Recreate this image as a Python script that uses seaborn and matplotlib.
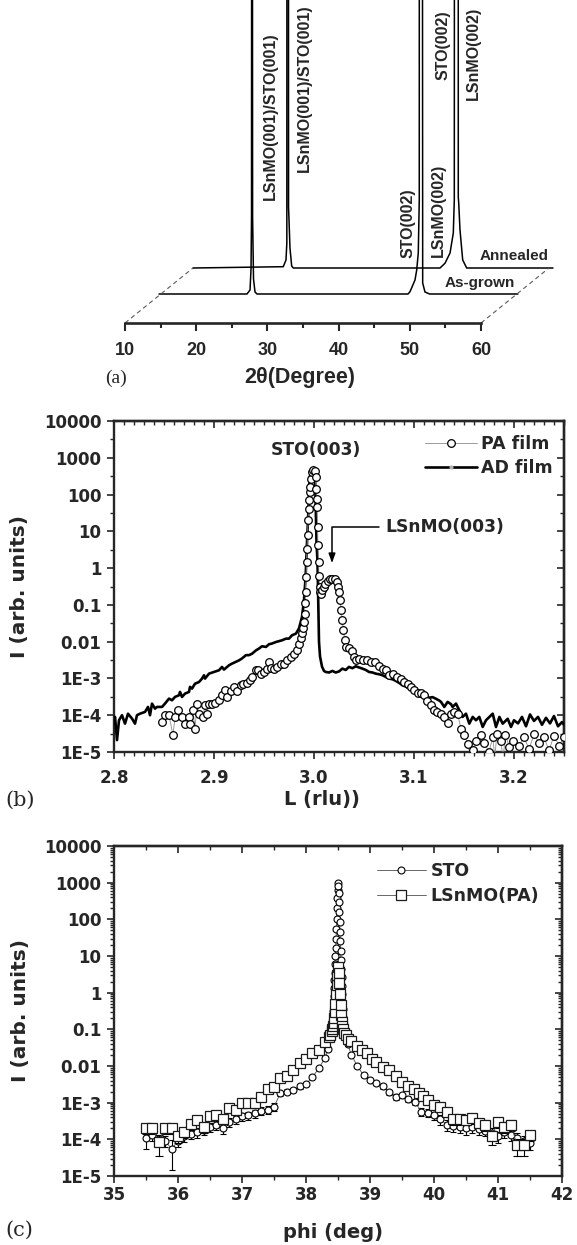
import numpy as np
import matplotlib
matplotlib.use("Agg")
import matplotlib.pyplot as plt
from matplotlib.lines import Line2D
from matplotlib.ticker import FixedLocator, MultipleLocator, NullFormatter
import seaborn as sns

sns.set_style("ticks")
plt.rcParams["font.family"] = ["DejaVu Sans"]
plt.rcParams["font.weight"] = "bold"
plt.rcParams["axes.labelweight"] = "bold"

# ---------------- (a) theta-2theta scans (intensity in display units) ----------------
tth_asgrown = [10.0, 22.35, 22.78, 22.92, 22.99, 23.06, 23.14, 23.27, 23.48, 23.76,
               44.97, 45.25, 45.95, 46.19, 46.41, 46.55, 46.58, 46.90, 47.03, 47.35, 48.0, 60.4]
int_asgrown = [0, 0, 4, 25, 77, 1500, 77, 15, 2, 0,
               0, 2.3, 14, 24, 41, 94, 1500, 1500, 11, 2, 0, 0]
tth_annealed = [10.0, 22.68, 23.06, 23.18, 23.22, 23.40, 23.42, 23.5, 23.62, 23.86, 24.09,
                44.69, 45.39, 46.1, 46.56, 46.7, 46.78, 47.24, 47.26, 47.32, 47.5, 47.88, 48.44, 60.56]
int_annealed = [0, 1.3, 8, 25, 1500, 1500, 61, 45, 20, 2, 0,
                0, 4.7, 15, 35, 68, 1500, 1500, 71, 65, 38, 8, 0, 0]
scan_names = ["As-grown", "Annealed"]
scan_shift_deg = [4.78, 9.55]
scan_shift_up = [29, 55]
tth_ticks = [10, 20, 30, 40, 50, 60]
tth_minor = [15, 25, 35, 45, 55]

# ---------------- (b) L scans ----------------
L_ad = [2.800, 2.801, 2.803, 2.805, 2.808, 2.811, 2.814, 2.818, 2.821, 2.823, 2.826, 2.831,
        2.834, 2.836, 2.838, 2.841, 2.843, 2.848, 2.851, 2.855, 2.858, 2.861, 2.865, 2.866,
        2.868, 2.871, 2.875, 2.876, 2.878, 2.881, 2.885, 2.888, 2.890, 2.891, 2.895, 2.900,
        2.905, 2.908, 2.910, 2.915, 2.918, 2.925, 2.928, 2.932, 2.935, 2.938, 2.942, 2.945,
        2.948, 2.952, 2.955, 2.958, 2.962, 2.965, 2.968, 2.972, 2.975, 2.978, 2.982, 2.985,
        2.988, 2.990, 2.9916, 2.993, 2.9945, 2.9957, 2.999, 3.001, 3.0025, 3.0035, 3.0045,
        3.005, 3.006, 3.008, 3.010, 3.0117, 3.015, 3.0184, 3.0217, 3.025, 3.0284, 3.0317,
        3.035, 3.0384, 3.0418, 3.045, 3.0484, 3.0518, 3.055, 3.0585, 3.0618, 3.065, 3.0685,
        3.0718, 3.075, 3.0785, 3.0818, 3.085, 3.0885, 3.0918, 3.0952, 3.0985, 3.1019, 3.105,
        3.1086, 3.112, 3.1152, 3.1186, 3.122, 3.1253, 3.127, 3.1303, 3.1336, 3.137, 3.1386,
        3.142, 3.1453, 3.1486, 3.152, 3.1553, 3.1587, 3.162, 3.1653, 3.1687, 3.172, 3.1754,
        3.1787, 3.182, 3.1854, 3.1887, 3.1937, 3.197, 3.200, 3.204, 3.208, 3.212, 3.216,
        3.220, 3.224, 3.228, 3.232, 3.236, 3.240, 3.244, 3.248, 3.250]
I_ad = [7.3e-5, 9.0e-5, 2.1e-5, 7.3e-5, 1.0e-4, 5.9e-5, 1.1e-4, 8.1e-5, 5.9e-5, 1.0e-4, 1.1e-4, 1.23e-4,
        1.68e-4, 1.0e-4, 2.07e-4, 1.51e-4, 1.68e-4, 1.68e-4, 2.07e-4, 2.83e-4, 2.55e-4, 3.14e-4, 3.49e-4, 4.3e-4,
        3.14e-4, 3.87e-4, 4.3e-4, 5.9e-4, 5.3e-4, 7.2e-4, 8.0e-4, 9.9e-4, 1.22e-3, 9.9e-4, 1.35e-3, 1.5e-3,
        1.67e-3, 2.05e-3, 1.74e-3, 2.28e-3, 2.53e-3, 3.1e-3, 3.5e-3, 4.3e-3, 4.3e-3, 4.7e-3, 5.8e-3, 6.5e-3,
        7.5e-3, 7.2e-3, 8.5e-3, 8.9e-3, 9.8e-3, 1.03e-2, 1.09e-2, 1.21e-2, 1.21e-2, 1.49e-2, 1.66e-2, 2.3e-2,
        4.7e-2, 0.135, 0.57, 5.0, 40.0, 300.0, 500.0, 370.0, 5.0, 1.5, 0.05,
        0.01, 4.0e-3, 2.1e-3, 1.6e-3, 1.5e-3, 1.45e-3, 1.6e-3, 1.45e-3, 1.55e-3, 1.85e-3, 1.7e-3,
        2.06e-3, 1.9e-3, 2.14e-3, 2.0e-3, 1.85e-3, 1.7e-3, 1.5e-3, 1.45e-3, 1.35e-3, 1.3e-3, 1.22e-3,
        1.1e-3, 9.9e-4, 9.5e-4, 8.6e-4, 7.6e-4, 6.5e-4, 6.0e-4, 5.3e-4, 4.9e-4, 4.6e-4, 4.0e-4,
        3.5e-4, 3.2e-4, 3.0e-4, 3.1e-4, 2.8e-4, 2.5e-4, 2.3e-4, 1.68e-4, 2.3e-4, 2.0e-4, 1.68e-4,
        2.07e-4, 1.36e-4, 9.0e-5, 1.1e-4, 5.9e-5, 9.0e-5, 7.3e-5, 9.0e-5, 4.8e-5, 7.3e-5, 9.0e-5,
        1.1e-4, 4.8e-5, 9.0e-5, 5.9e-5, 8.0e-5, 4.8e-5, 7.3e-5, 6.0e-5, 9.0e-5, 5.0e-5, 1.05e-4,
        7.0e-5, 9.0e-5, 5.5e-5, 8.5e-5, 6.0e-5, 9.5e-5, 5.0e-5, 6.5e-5, 5.5e-5]

L_pa = [2.848, 2.851, 2.855, 2.859, 2.861, 2.864, 2.868, 2.871, 2.875, 2.876, 2.879, 2.881,
        2.883, 2.885, 2.889, 2.891, 2.893, 2.895, 2.898, 2.901, 2.905, 2.908, 2.911, 2.913,
        2.917, 2.920, 2.923, 2.927, 2.929, 2.933, 2.936, 2.938, 2.942, 2.944, 2.947, 2.950,
        2.953, 2.955, 2.957, 2.960, 2.963, 2.967, 2.970, 2.973, 2.977, 2.980, 2.983, 2.985,
        2.987, 2.988, 2.989, 2.990, 2.9905, 2.991, 2.9915, 2.992, 2.9925, 2.993, 2.9935, 2.994,
        2.9945, 2.995, 2.9955, 2.996, 2.997, 2.998, 2.999, 3.0005, 3.0015, 3.002, 3.0025, 3.003,
        3.0035, 3.004, 3.0045, 3.005, 3.0055, 3.006, 3.007, 3.008, 3.0095, 3.011, 3.0135, 3.016,
        3.018, 3.021, 3.023, 3.024, 3.025, 3.026, 3.027, 3.028, 3.0294, 3.0307, 3.0324, 3.035,
        3.0378, 3.040, 3.0418, 3.045, 3.049, 3.0534, 3.0568, 3.061, 3.0645, 3.0685, 3.0718, 3.075,
        3.0785, 3.0825, 3.0869, 3.0902, 3.0935, 3.0969, 3.100, 3.1036, 3.107, 3.110, 3.1132, 3.1165,
        3.120, 3.1232, 3.1266, 3.130, 3.1336, 3.1366, 3.140, 3.1436, 3.147, 3.1503, 3.1537, 3.157,
        3.1587, 3.162, 3.167, 3.170, 3.175, 3.1787, 3.181, 3.1827, 3.187, 3.189, 3.1914, 3.1954,
        3.197, 3.1994, 3.205, 3.210, 3.215, 3.220, 3.225, 3.230, 3.235, 3.240, 3.245, 3.250]
I_pa = [6.6e-5, 1.0e-4, 1.0e-4, 2.85e-5, 9.0e-5, 1.42e-4, 9.0e-5, 5.9e-5, 9.0e-5, 5.7e-5, 1.42e-4, 4.3e-5,
        1.99e-4, 1.1e-4, 9.0e-5, 1.87e-4, 1.1e-4, 2.07e-4, 2.07e-4, 2.16e-4, 2.66e-4, 3.5e-4, 4.8e-4, 3.1e-4,
        4.6e-4, 5.9e-4, 4.6e-4, 6.5e-4, 6.9e-4, 7.6e-4, 9.3e-4, 1.1e-3, 1.67e-3, 1.74e-3, 1.35e-3, 1.5e-3,
        1.85e-3, 2.8e-3, 1.97e-3, 1.85e-3, 2.05e-3, 2.53e-3, 2.53e-3, 3.1e-3, 3.8e-3, 4.5e-3, 5.8e-3, 8.9e-3,
        1.25e-2, 1.7e-2, 2.4e-2, 3.4e-2, 5.7e-2, 0.11, 0.22, 0.57, 1.47, 3.4, 7.8, 20.0,
        41.0, 70.0, 118.0, 161.0, 271.0, 400.0, 457.0, 440.0, 300.0, 145.0, 78.0, 46.0,
        13.0, 4.2, 1.47, 0.6, 0.3, 0.22, 0.2, 0.26, 0.3, 0.38, 0.45, 0.5,
        0.52, 0.5, 0.42, 0.3, 0.22, 0.134, 0.072, 0.04, 0.021, 0.011, 7.0e-3, 6.6e-3,
        5.7e-3, 3.8e-3, 3.2e-3, 3.4e-3, 3.2e-3, 3.1e-3, 2.8e-3, 2.8e-3, 2.2e-3, 1.85e-3, 1.67e-3, 1.22e-3,
        1.35e-3, 1.1e-3, 9.9e-4, 8.0e-4, 7.2e-4, 5.9e-4, 4.8e-4, 4.1e-4, 3.9e-4, 3.5e-4, 2.5e-4, 1.87e-4,
        1.42e-4, 1.23e-4, 1.1e-4, 9.0e-5, 6.2e-5, 1.1e-4, 1.23e-4, 1.1e-4, 4.3e-5, 2.85e-5, 1.7e-5, 6.0e-6,
        1.14e-5, 2.0e-5, 2.85e-5, 1.8e-5, 1.0e-5, 2.5e-5, 7.0e-6, 3.1e-5, 2.0e-5, 6.0e-6, 2.85e-5, 1.4e-5,
        7.0e-6, 2.0e-5, 1.5e-5, 2.5e-5, 1.2e-5, 3.0e-5, 1.8e-5, 2.5e-5, 1.1e-5, 2.8e-5, 1.5e-5, 2.5e-5]
L_ticks = [2.8, 2.9, 3.0, 3.1, 3.2]
L_labels = ["2.8", "2.9", "3.0", "3.1", "3.2"]

# ---------------- (c) phi scans ----------------
phi_sto = [35.5, 35.6, 35.7, 35.8, 35.9, 36.0, 36.1, 36.2, 36.3, 36.4, 36.5, 36.6, 36.7, 36.8,
           36.9, 37.0, 37.1, 37.2, 37.3, 37.4, 37.5, 37.6, 37.7, 37.8, 37.9, 38.0, 38.1, 38.2,
           38.3, 38.35,
           38.40, 38.405, 38.41, 38.415, 38.42, 38.425, 38.43, 38.435, 38.44, 38.445, 38.45,
           38.455, 38.46, 38.465, 38.47, 38.475, 38.48, 38.485, 38.49, 38.495, 38.50, 38.505,
           38.51, 38.515, 38.52, 38.525, 38.53, 38.535, 38.54, 38.545, 38.55, 38.555, 38.56,
           38.565, 38.57, 38.575, 38.58, 38.59, 38.60,
           38.65, 38.71, 38.8, 38.9, 39.0, 39.1, 39.2, 39.3, 39.4, 39.5, 39.6, 39.7, 39.8,
           39.9, 40.0, 40.1, 40.2, 40.3, 40.4, 40.5, 40.6, 40.7, 40.8, 40.9, 41.0, 41.1, 41.2,
           41.3, 41.4, 41.5]
I_sto = [1.1e-4, 1.3e-4, 1.0e-4, 9.0e-5, 5.5e-5, 9.0e-5, 1.2e-4, 1.4e-4, 1.6e-4, 1.8e-4, 2.2e-4, 2.5e-4, 2.0e-4, 3.0e-4,
         3.5e-4, 4.2e-4, 4.5e-4, 5.1e-4, 6.0e-4, 6.5e-4, 7.8e-4, 1.8e-3, 2.0e-3, 2.2e-3, 2.8e-3, 3.2e-3, 5.0e-3, 8.6e-3,
         1.7e-2, 3.0e-2,
         0.07, 0.09, 0.12, 0.16, 0.22, 0.32, 0.5, 0.8, 1.3, 2.2, 3.5,
         6.0, 10.0, 17.0, 30.0, 55.0, 100.0, 200.0, 380.0, 650.0, 1000.0, 800.0,
         520.0, 300.0, 160.0, 85.0, 45.0, 25.0, 14.0, 8.0, 4.5, 2.6, 1.5,
         0.9, 0.55, 0.35, 0.22, 0.13, 0.08,
         0.04, 0.02, 0.01, 5.6e-3, 4.1e-3, 3.4e-3, 2.8e-3, 1.9e-3, 1.45e-3, 1.6e-3, 1.24e-3, 1.07e-3, 5.7e-4,
         5.3e-4, 4.5e-4, 3.5e-4, 2.5e-4, 2.3e-4, 2.2e-4, 2.0e-4, 2.2e-4, 1.9e-4, 1.7e-4, 1.5e-4, 1.2e-4, 1.6e-4, 1.3e-4,
         1.1e-4, 9.0e-5, 8.0e-5]
err_sto = [5.5e-5, 4e-5, 3e-5, 3e-5, 4e-5, 3e-5, 3.5e-5, 4e-5, 5e-5, 5e-5, 6e-5, 7e-5, 6e-5, 8e-5,
           9e-5, 1.1e-4, 1.2e-4, 1.4e-4, 1.5e-4, 1.6e-4, 1.8e-4, 3e-4, 3e-4, 3e-4, 4e-4, 4e-4, 6e-4, 1e-3,
           2e-3, 3e-3,
           6e-3, 8e-3, 0.01, 0.014, 0.02, 0.03, 0.045, 0.07, 0.11, 0.19, 0.3,
           0.5, 0.8, 1.4, 2.5, 4.5, 8.0, 16.0, 30.0, 50.0, 70.0, 60.0,
           40.0, 24.0, 13.0, 7.0, 3.7, 2.0, 1.2, 0.7, 0.4, 0.22, 0.13,
           0.08, 0.05, 0.03, 0.02, 0.012, 7e-3,
           4e-3, 2e-3, 1.2e-3, 7e-4, 5e-4, 4e-4, 4e-4, 3e-4, 2.5e-4, 2.5e-4, 2e-4, 2e-4, 1.3e-4,
           1.3e-4, 1.1e-4, 1e-4, 8e-5, 7e-5, 7e-5, 7e-5, 7e-5, 6e-5, 5e-5, 5e-5, 4e-5, 5e-5, 4e-5,
           4e-5, 3e-5, 3e-5]

phi_lsnmo = [35.5, 35.6, 35.7, 35.8, 35.9, 36.0, 36.1, 36.2, 36.3, 36.4, 36.5, 36.6, 36.7, 36.8,
             36.9, 37.0, 37.1, 37.2, 37.3, 37.4, 37.5, 37.6, 37.7, 37.8, 37.9, 38.0, 38.1, 38.2,
             38.3, 38.36, 38.38, 38.40, 38.41, 38.42, 38.43, 38.44, 38.45, 38.46, 38.47, 38.48,
             38.49, 38.50, 38.51, 38.52, 38.53, 38.54, 38.55, 38.56, 38.57, 38.58, 38.60, 38.62,
             38.65, 38.71, 38.79, 38.87, 38.95, 39.03, 39.1, 39.2, 39.3, 39.4, 39.5, 39.6, 39.68,
             39.76, 39.83, 39.91, 40.0, 40.1, 40.2, 40.3, 40.4, 40.5, 40.6, 40.7, 40.8, 40.9,
             41.0, 41.1, 41.2, 41.3, 41.4, 41.5]
I_lsnmo = [2.0e-4, 2.0e-4, 8.5e-5, 2.0e-4, 2.0e-4, 1.2e-4, 1.6e-4, 2.7e-4, 3.4e-4, 2.2e-4, 4.2e-4, 4.6e-4, 3.5e-4, 7.0e-4,
           6.5e-4, 1.0e-3, 1.0e-3, 9.5e-4, 1.45e-3, 2.4e-3, 2.7e-3, 4.6e-3, 5.5e-3, 7.8e-3, 1.2e-2, 1.6e-2, 2.2e-2, 2.8e-2,
           4.4e-2, 0.06, 0.07, 0.09, 0.1, 0.12, 0.15, 0.2, 0.3, 0.5, 0.9, 1.6,
           3.0, 5.0, 3.5, 1.8, 0.9, 0.45, 0.25, 0.16, 0.12, 0.1, 0.08, 0.07,
           0.055, 0.048, 0.036, 0.028, 0.023, 0.016, 0.013, 9.2e-3, 7.7e-3, 5.3e-3, 3.7e-3, 2.8e-3, 2.4e-3,
           1.8e-3, 1.5e-3, 1.2e-3, 8.6e-4, 7.8e-4, 5.4e-4, 3.5e-4, 3.5e-4, 3.4e-4, 3.7e-4, 2.8e-4, 2.5e-4, 1.2e-4,
           3.0e-4, 2.2e-4, 2.5e-4, 7.0e-5, 7.0e-5, 1.3e-4]
err_lsnmo = [6e-5, 6e-5, 5e-5, 6e-5, 6e-5, 4e-5, 5e-5, 7e-5, 8e-5, 7e-5, 1e-4, 1e-4, 9e-5, 1.4e-4,
             1.4e-4, 2e-4, 2e-4, 2e-4, 2.5e-4, 3.5e-4, 4e-4, 6e-4, 7e-4, 9e-4, 1.3e-3, 1.7e-3, 2.2e-3, 2.8e-3,
             4e-3, 5e-3, 6e-3, 8e-3, 9e-3, 0.01, 0.012, 0.015, 0.022, 0.04, 0.07, 0.12,
             0.2, 0.35, 0.25, 0.13, 0.07, 0.035, 0.02, 0.013, 0.01, 8e-3, 7e-3, 6e-3,
             5e-3, 4.5e-3, 3.5e-3, 2.8e-3, 2.3e-3, 1.7e-3, 1.4e-3, 1e-3, 9e-4, 7e-4, 5e-4, 4e-4, 3.5e-4,
             3e-4, 2.5e-4, 2.2e-4, 1.8e-4, 1.7e-4, 1.3e-4, 1e-4, 1e-4, 1e-4, 1e-4, 8e-5, 8e-5, 5e-5,
             9e-5, 7e-5, 8e-5, 3.5e-5, 3.5e-5, 4e-5]
phi_ticks = [35, 36, 37, 38, 39, 40, 41, 42]

# shared log-axis ticks
I_ticks = [1e-5, 1e-4, 1e-3, 1e-2, 1e-1, 1, 10, 100, 1000, 10000]
I_labels = ["1E-5", "1E-4", "1E-3", "0.01", "0.1", "1", "10", "100", "1000", "10000"]

W, H = 577, 1245
fig = plt.figure(figsize=(W / 100, H / 100), dpi=100)


def px_rect(left, top, right, bottom):
    return [left / W, 1 - bottom / H, (right - left) / W, (bottom - top) / H]


SANS_A = "Liberation Sans"

# ======================= panel (a) =======================
ax_a = fig.add_axes(px_rect(0, 0, W, 323))
deg_per_px = 1 / 7.12
ax_a.set_xlim(10 - 125 * deg_per_px, 10 + (W - 125) * deg_per_px)
ax_a.set_ylim(0, 323)
for side in ["left", "right", "top"]:
    ax_a.spines[side].set_visible(False)
ax_a.spines["bottom"].set_bounds(tth_ticks[0], tth_ticks[-1])
ax_a.spines["bottom"].set_linewidth(1.9)
ax_a.set_yticks([])
ax_a.set_xticks(tth_ticks)
ax_a.xaxis.set_minor_locator(FixedLocator(tth_minor))
ax_a.tick_params(axis="x", which="major", direction="out", length=6, width=1.5,
                 pad=8, labelsize=13, labelfontfamily=SANS_A)
ax_a.tick_params(axis="x", which="minor", direction="out", length=3.6, width=1.5)
ax_a.patch.set_alpha(0)

scans = [(tth_asgrown, int_asgrown), (tth_annealed, int_annealed)]
for (tth, inten), dx, dy in zip(scans, scan_shift_deg, scan_shift_up):
    sns.lineplot(x=np.array(tth) + dx, y=np.array(inten) + dy, ax=ax_a, color="black",
                 lw=1.1, sort=False, estimator=None, legend=False)

# receding guide lines of the pseudo-3D stack
for end in (tth_ticks[0], tth_ticks[-1]):
    ax_a.plot([end, end + scan_shift_deg[-1]], [0, scan_shift_up[-1]], color="0.35",
              lw=0.8, dashes=(4, 3), clip_on=False)

label_kw = dict(rotation=90, ha="center", va="bottom", fontsize=11.5, family=SANS_A)
ax_a.text(30.37, 123, "LSnMO(001)/STO(001)", **label_kw)
ax_a.text(35.14, 151, "LSnMO(001)/STO(001)", **label_kw)
ax_a.text(49.75, 65, "STO(002)", **label_kw)
ax_a.text(53.96, 66, "LSnMO(002)", **label_kw)
ax_a.text(54.66, 243, "STO(002)", **label_kw)
ax_a.text(58.88, 223, "LSnMO(002)", **label_kw)
ax_a.text(54.94, 40, scan_names[0], ha="left", va="center", fontsize=11, family=SANS_A)
ax_a.text(59.86, 67, scan_names[1], ha="left", va="center", fontsize=11, family=SANS_A)

ax_a.set_xlabel("2θ(Degree)", fontsize=15.5, family=SANS_A, va="center")
ax_a.xaxis.set_label_coords(300 / W, (323 - 378) / 323)
fig.text(105 / W, 1 - 378 / H, "(a)", family="Liberation Serif", weight="normal",
         fontsize=14, ha="left", va="center")


def style_log_panel(ax, xticks, xlabels, xminor, ylabel, xlabel, minor_y_subs):
    ax.set_yscale("log")
    ax.set_ylim(I_ticks[0], I_ticks[-1])
    ax.set_xticks(xticks, xlabels)
    ax.set_yticks(I_ticks, I_labels)
    ax.xaxis.set_minor_locator(MultipleLocator(xminor))
    ymin = [s * t for t in I_ticks[:-1] for s in minor_y_subs]
    ax.yaxis.set_minor_locator(FixedLocator(ymin))
    ax.yaxis.set_minor_formatter(NullFormatter())
    for sp in ax.spines.values():
        sp.set_linewidth(1.7)
    ax.tick_params(which="major", direction="out", length=5, width=1.2, labelsize=12)
    ax.tick_params(which="minor", direction="out", length=3, width=1.0)
    ax.tick_params(axis="y", pad=4)
    top = ax.secondary_xaxis("top")
    top.set_xticks(xticks)
    top.xaxis.set_minor_locator(MultipleLocator(xminor))
    top.xaxis.set_major_formatter(NullFormatter())
    top.tick_params(which="major", direction="in", length=5, width=1.2)
    top.tick_params(which="minor", direction="in", length=3, width=1.0)
    top.spines["top"].set_linewidth(1.7)
    right = ax.secondary_yaxis("right")
    right.set_yticks(I_ticks)
    right.yaxis.set_minor_locator(FixedLocator(ymin))
    right.yaxis.set_major_formatter(NullFormatter())
    right.yaxis.set_minor_formatter(NullFormatter())
    right.tick_params(which="major", direction="in", length=5, width=1.2)
    right.tick_params(which="minor", direction="in", length=3, width=1.0)
    right.spines["right"].set_linewidth(1.7)
    ax.set_ylabel(ylabel, fontsize=14.5, va="center")
    ax.set_xlabel(xlabel, fontsize=14, va="center")


# ======================= panel (b) =======================
ax_b = fig.add_axes(px_rect(114, 421, 564, 752))
ax_b.set_xlim(2.8, 3.25)
sns.lineplot(x=L_ad, y=I_ad, ax=ax_b, color="black", lw=1.9, sort=False,
             estimator=None, legend=False, zorder=3)
sns.lineplot(x=L_pa, y=I_pa, ax=ax_b, color="0.55", lw=0.6, marker="o", markersize=5.5,
             markerfacecolor="white", markeredgecolor="black", markeredgewidth=0.9,
             sort=False, estimator=None, legend=False, zorder=4)
style_log_panel(ax_b, L_ticks, L_labels, 0.01, "I (arb. units)", "L (rlu))", [10 ** 0.5])
ax_b.yaxis.set_label_coords((20 - 114) / 450, 0.5)
ax_b.xaxis.set_label_coords((322 - 114) / 450, -(800 - 752) / 331)
ax_b.tick_params(axis="x", pad=7)

ax_b.text(3.002, 1620, "STO(003)", ha="center", va="center", fontsize=12.3)
L_arr = np.array(L_pa)
I_arr = np.array(I_pa)
film_side = L_arr > 3.01
peak_L = L_arr[film_side][np.argmax(I_arr[film_side])]
ax_b.text(3.131, 13.1, "LSnMO(003)", ha="center", va="center", fontsize=12.3)
ax_b.annotate("", xy=(peak_L, 1.38), xytext=(3.065, 13.1),
              arrowprops=dict(arrowstyle="-|>,head_length=0.55,head_width=0.2",
                              connectionstyle="angle,angleA=180,angleB=90,rad=0",
                              lw=1.1, color="black", shrinkA=0, shrinkB=0))

h_pa = Line2D([], [], color="0.55", lw=0.6, marker="o", markersize=5.5,
              markerfacecolor="white", markeredgecolor="black", markeredgewidth=0.9)
h_ad = Line2D([], [], color="black", lw=1.9, marker="o", markersize=2,
              markerfacecolor="0.7", markeredgecolor="0.7")
ax_b.legend([h_pa, h_ad], ["PA film", "AD film"], loc="upper left",
            bbox_to_anchor=(425 / W, 1 - 435 / H), bbox_transform=fig.transFigure,
            frameon=False, fontsize=12.5, handlelength=3.0, handletextpad=0.25,
            labelspacing=0.35, borderpad=0, borderaxespad=0)
fig.text(5 / W, 1 - 800 / H, "(b)", family="DejaVu Serif", weight="normal",
         fontsize=15, ha="left", va="center")

# ======================= panel (c) =======================
ax_c = fig.add_axes(px_rect(114, 846, 562, 1176))
ax_c.set_xlim(phi_ticks[0], phi_ticks[-1])
ax_c.errorbar(phi_sto, I_sto, yerr=err_sto, fmt="none", ecolor="black", elinewidth=0.8,
              capsize=2.5, capthick=0.8, zorder=2)
sns.lineplot(x=phi_sto, y=I_sto, ax=ax_c, color="0.3", lw=0.6, marker="o", markersize=5,
             markerfacecolor="white", markeredgecolor="black", markeredgewidth=0.8,
             sort=False, estimator=None, legend=False, zorder=3)
ax_c.errorbar(phi_lsnmo, I_lsnmo, yerr=err_lsnmo, fmt="none", ecolor="black",
              elinewidth=0.8, capsize=3, capthick=0.8, zorder=4)
sns.lineplot(x=phi_lsnmo, y=I_lsnmo, ax=ax_c, color="0.3", lw=0.6, marker="s", markersize=7,
             markerfacecolor="white", markeredgecolor="0.1", markeredgewidth=0.9,
             sort=False, estimator=None, legend=False, zorder=5)
style_log_panel(ax_c, phi_ticks, [str(t) for t in phi_ticks], 0.5, "I (arb. units)",
                "phi (deg)", list(range(2, 10)))
ax_c.yaxis.set_label_coords((21 - 114) / 448, 0.5)
ax_c.xaxis.set_label_coords((333 - 114) / 448, -(1232 - 1176) / 330)
ax_c.tick_params(axis="x", pad=2)

h_sto = Line2D([], [], color="0.3", lw=0.6, marker="o", markersize=5,
               markerfacecolor="white", markeredgecolor="black", markeredgewidth=0.8)
h_ls = Line2D([], [], color="0.3", lw=0.6, marker="s", markersize=7,
              markerfacecolor="white", markeredgecolor="0.1", markeredgewidth=0.9)
ax_c.legend([h_sto, h_ls], ["STO", "LSnMO(PA)"], loc="upper left",
            bbox_to_anchor=(377 / W, 1 - 862 / H), bbox_transform=fig.transFigure,
            frameon=False, fontsize=12.5, handlelength=2.8, handletextpad=0.3,
            labelspacing=0.4, borderpad=0, borderaxespad=0)
fig.text(5 / W, 1 - 1230 / H, "(c)", family="DejaVu Serif", weight="normal",
         fontsize=15, ha="left", va="center")

fig.savefig("out.png", dpi=100)
